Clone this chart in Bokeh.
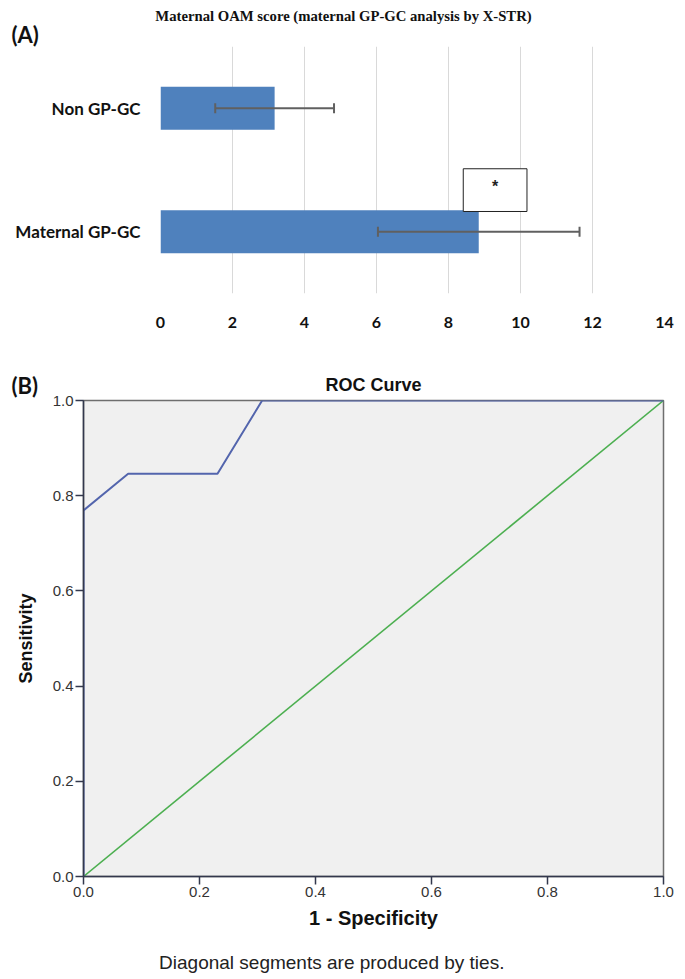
from bokeh.plotting import figure
from bokeh.models import (ColumnDataSource, FactorRange, Range1d, Whisker, TeeHead,
                          Label, FixedTicker, NumeralTickFormatter)
from bokeh.transform import dodge
from bokeh.core.properties import value
from bokeh.embed import file_html
from bokeh.resources import INLINE

# ---------------- Data ----------------
# Panel A: Maternal OAM score
categories = ["Non GP-GC", "Maternal GP-GC"]
mean_scores = [3.17, 8.84]
error_sizes = [1.65, 2.8]
x_ticks_a = [0, 2, 4, 6, 8, 10, 12, 14]
star_group = ["Maternal GP-GC"]
star_span = [8.41, 10.18]

# Panel B: ROC curve
fpr = [0.0, 0.0, 0.077, 0.231, 0.308, 1.0]
tpr = [0.0, 0.769, 0.846, 0.846, 1.0, 1.0]
ref_x = [0.0, 1.0]
ref_y = [0.0, 1.0]
roc_ticks = [0.0, 0.2, 0.4, 0.6, 0.8, 1.0]

# ---------------- Panel A ----------------
src_a = ColumnDataSource(dict(
    cat=categories,
    mean=mean_scores,
    lower=[m - e for m, e in zip(mean_scores, error_sizes)],
    upper=[m + e for m, e in zip(mean_scores, error_sizes)],
))

pa = figure(width=685, height=338, output_backend="svg", toolbar_location=None,
            x_range=Range1d(0, 14),
            y_range=FactorRange(factors=list(reversed(categories)), range_padding=0),
            min_border_left=160, min_border_right=21, min_border_top=46, min_border_bottom=45)
pa.outline_line_color = None
pa.background_fill_color = "white"
pa.border_fill_color = "white"

pa.hbar(y="cat", left=0, right="mean", height=0.348, source=src_a,
        fill_color="#4f81bd", line_color=None)

wh = Whisker(base="cat", lower="lower", upper="upper", dimension="width", source=src_a,
             line_color="#606060", line_width=2, level="overlay",
             lower_head=TeeHead(size=10, line_color="#606060", line_width=2),
             upper_head=TeeHead(size=10, line_color="#606060", line_width=2))
pa.add_layout(wh)

src_star = ColumnDataSource(dict(cat=star_group, l=[star_span[0]], r=[star_span[1]],
                                 mid=[(star_span[0] + star_span[1]) / 2], txt=["*"]))
pa.quad(left="l", right="r",
        bottom=dodge("cat", 0.164, range=pa.y_range), top=dodge("cat", 0.51, range=pa.y_range),
        source=src_star, fill_color="white", line_color="#222222", line_width=1)
pa.text(x="mid", y=dodge("cat", 0.37, range=pa.y_range), text="txt", source=src_star,
        text_align="center", text_baseline="middle", text_font=value("Liberation Sans"),
        text_font_size="16px", text_font_style="bold", text_color="#222222")

pa.xaxis.ticker = FixedTicker(ticks=x_ticks_a)
pa.xaxis.axis_line_color = None
pa.xaxis.major_tick_line_color = None
pa.xaxis.minor_tick_line_color = None
pa.xaxis.major_label_standoff = 17
pa.xaxis.major_label_text_font = "Lato"
pa.xaxis.major_label_text_font_style = "bold"
pa.xaxis.major_label_text_font_size = "16px"
pa.xaxis.major_label_text_color = "#111111"

pa.yaxis.axis_line_color = None
pa.yaxis.major_tick_line_color = None
pa.yaxis.minor_tick_line_color = None
pa.yaxis.major_label_standoff = 14
pa.yaxis.major_label_text_font = "Lato"
pa.yaxis.major_label_text_font_style = "bold"
pa.yaxis.major_label_text_font_size = "17px"
pa.yaxis.major_label_text_color = "#111111"

pa.xgrid.ticker = FixedTicker(ticks=x_ticks_a)
pa.xgrid.grid_line_color = "#d9d9d9"
pa.ygrid.grid_line_color = None

pa.add_layout(Label(x=0, y=2, x_offset=-149, y_offset=12, text="(A)",
                    text_align="left", text_baseline="middle",
                    text_font="Lato", text_font_style="bold",
                    text_font_size="22px", text_color="#111111"), "above")
pa.add_layout(Label(x=0, y=2, x_offset=183, y_offset=31,
                    text="Maternal OAM score (maternal GP-GC analysis by X-STR)",
                    text_align="center", text_baseline="middle",
                    text_font="Liberation Serif", text_font_style="bold",
                    text_font_size="14.7px", text_color="#111111"), "above")

# ---------------- Panel B ----------------
pb = figure(width=685, height=640, output_backend="svg", toolbar_location=None,
            x_range=Range1d(0, 1), y_range=Range1d(0, 1),
            min_border_left=83, min_border_right=22, min_border_top=62, min_border_bottom=102)
pb.background_fill_color = "#f0f0f0"
pb.border_fill_color = "white"
pb.outline_line_color = "#6e6e6e"
pb.outline_line_width = 1.5

pb.line(ref_x, ref_y, line_color="#4caf50", line_width=1.6)
pb.line(fpr, tpr, line_color="#5365ad", line_width=2)

for ax in (pb.xaxis, pb.yaxis):
    ax.ticker = FixedTicker(ticks=roc_ticks)
    ax.formatter = NumeralTickFormatter(format="0.0")
    ax.axis_line_color = "#33384d"
    ax.axis_line_width = 1.5
    ax.major_tick_line_color = "#33384d"
    ax.major_tick_line_width = 1.5
    ax.major_tick_in = 0
    ax.major_tick_out = 8
    ax.minor_tick_line_color = None
    ax.major_label_standoff = 2
    ax.major_label_text_font = "Liberation Sans"
    ax.major_label_text_font_size = "15px"
    ax.major_label_text_color = "#333333"
    ax.axis_label_text_font = "Liberation Sans"
    ax.axis_label_text_font_style = "bold"
    ax.axis_label_text_color = "#111111"

pb.xaxis.axis_label = "1 - Specificity"
pb.xaxis.axis_label_text_font_size = "20px"
pb.xaxis.axis_label_standoff = 7
pb.yaxis.axis_label = "Sensitivity"
pb.yaxis.axis_label_text_font_size = "18px"
pb.yaxis.axis_label_standoff = 14
pb.xgrid.grid_line_color = None
pb.ygrid.grid_line_color = None

pb.add_layout(Label(x=0.5, y=1, y_offset=16, text="ROC Curve",
                    text_align="center", text_baseline="middle",
                    text_font="Liberation Sans", text_font_style="bold",
                    text_font_size="18px", text_color="#111111"), "above")
pb.add_layout(Label(x=0, y=1, x_offset=-72, y_offset=15, text="(B)",
                    text_align="left", text_baseline="middle",
                    text_font="Lato", text_font_style="bold",
                    text_font_size="22px", text_color="#111111"), "above")
pb.add_layout(Label(x=0.428, y=0, y_offset=-86, text="Diagonal segments are produced by ties.",
                    text_align="center", text_baseline="middle",
                    text_font="Liberation Sans", text_font_size="19px", text_color="#222222"), "below")

open("out.html", "w").write(file_html((pa, pb), INLINE))
